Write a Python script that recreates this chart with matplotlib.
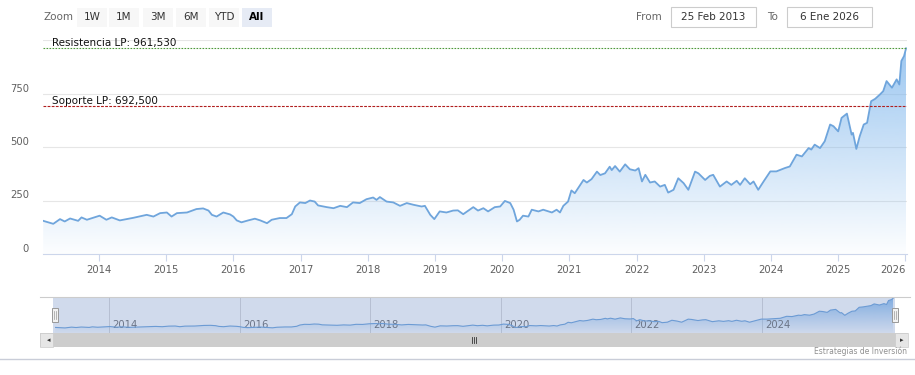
import numpy as np
import matplotlib.pyplot as plt
from matplotlib.patches import Rectangle
from matplotlib.colors import LinearSegmentedColormap
import matplotlib.transforms as mtransforms

# serie (año decimal, precio)
years = [2013.17, 2013.32, 2013.42, 2013.49, 2013.57, 2013.69, 2013.74, 2013.82, 2014.01, 2014.11,
         2014.19, 2014.31, 2014.51, 2014.71, 2014.81, 2014.91, 2015.01, 2015.08, 2015.16, 2015.31,
         2015.45, 2015.55, 2015.63, 2015.68, 2015.75, 2015.85, 2015.95, 2016.00, 2016.05, 2016.12,
         2016.22, 2016.32, 2016.40, 2016.50, 2016.57, 2016.69, 2016.79, 2016.87, 2016.92, 2016.99,
         2017.07, 2017.14, 2017.21, 2017.26, 2017.39, 2017.49, 2017.59, 2017.69, 2017.78, 2017.88,
         2017.98, 2018.08, 2018.13, 2018.18, 2018.28, 2018.38, 2018.48, 2018.58, 2018.68, 2018.80,
         2018.85, 2018.93, 2018.99, 2019.07, 2019.17, 2019.27, 2019.34, 2019.42, 2019.57, 2019.64,
         2019.72, 2019.79, 2019.89, 2019.97, 2020.04, 2020.12, 2020.17, 2020.22, 2020.26, 2020.31,
         2020.39, 2020.44, 2020.54, 2020.61, 2020.74, 2020.81, 2020.86, 2020.91, 2020.98, 2021.03,
         2021.08, 2021.21, 2021.26, 2021.33, 2021.41, 2021.46, 2021.53, 2021.60, 2021.63, 2021.68,
         2021.75, 2021.83, 2021.90, 2021.98, 2022.03, 2022.08, 2022.13, 2022.20, 2022.27, 2022.35,
         2022.42, 2022.47, 2022.55, 2022.62, 2022.70, 2022.77, 2022.87, 2022.92, 2023.02, 2023.09,
         2023.14, 2023.24, 2023.34, 2023.41, 2023.49, 2023.54, 2023.61, 2023.69, 2023.74, 2023.81,
         2023.89, 2023.99, 2024.08, 2024.21, 2024.28, 2024.38, 2024.46, 2024.56, 2024.60, 2024.65,
         2024.73, 2024.80, 2024.88, 2024.93, 2025.00, 2025.05, 2025.13, 2025.20, 2025.22, 2025.27,
         2025.32, 2025.38, 2025.43, 2025.49, 2025.55, 2025.62, 2025.67, 2025.72, 2025.80, 2025.87,
         2025.91, 2025.94, 2025.98, 2026.01]
values = [155, 141, 163, 152, 166, 155, 171, 160, 179, 160,
          171, 157, 169, 183, 175, 191, 194, 175, 191, 194,
          210, 213, 203, 183, 175, 194, 185, 175, 157, 148,
          157, 165, 157, 144, 160, 168, 168, 186, 222, 241,
          238, 250, 245, 227, 219, 214, 225, 219, 241, 238,
          256, 264, 253, 266, 245, 241, 225, 238, 230, 222,
          225, 183, 163, 199, 194, 203, 204, 186, 219, 203,
          214, 199, 219, 222, 248, 238, 207, 152, 160, 179,
          175, 207, 199, 207, 194, 207, 194, 225, 245, 297,
          284, 346, 334, 350, 385, 369, 377, 408, 392, 411,
          385, 419, 396, 390, 401, 339, 370, 334, 339, 315,
          323, 287, 300, 354, 331, 300, 385, 377, 346, 365,
          370, 315, 339, 323, 342, 323, 354, 326, 339, 300,
          339, 386, 386, 402, 409, 464, 456, 495, 488, 511,
          495, 527, 605, 597, 573, 636, 656, 558, 566, 491,
          550, 605, 613, 714, 725, 745, 761, 808, 777, 816,
          792, 902, 925, 961]

resistencia = 961.53
soporte = 692.5
y_ticks = [0, 250, 500, 750]
x_ticks = list(range(2014, 2027))
nav_ticks = [2014, 2016, 2018, 2020, 2022, 2024]
buttons = ['1W', '1M', '3M', '6M', 'YTD', 'All']
date_from = '25 Feb 2013'
date_to = '6 Ene 2026'

W, H = 915, 375
BLUE = (124 / 255, 181 / 255, 236 / 255)
LINE = '#6fa5dc'
GRID = '#e6e6e6'
AXIS = '#ccd6eb'
LBL = '#606060'
plt.rcParams['font.family'] = 'DejaVu Sans'


def fx(x):
    return x / W


def fy(y):
    return 1 - y / H


def box(x0, y0, x1, y1, **kw):
    fig.add_artist(Rectangle((fx(x0), fy(y1)), (x1 - x0) / W, (y1 - y0) / H,
                             transform=fig.transFigure, **kw))


def grad_area(ax, x, y, top_alpha, ymax):
    poly = ax.fill_between(x, y, 0, facecolor='none', edgecolor='none')
    cmap = LinearSegmentedColormap.from_list('g', [BLUE + (0.02,), BLUE + (top_alpha,)])
    grad = np.linspace(0, 1, 256).reshape(-1, 1)
    im = ax.imshow(grad, aspect='auto', cmap=cmap, origin='lower',
                   extent=[x[0], x[-1], 0, ymax], zorder=1, interpolation='bilinear')
    im.set_clip_path(poly.get_paths()[0], transform=ax.transData)


fig = plt.figure(figsize=(W / 100, H / 100), dpi=100)

# grafico principal
ax = fig.add_axes([fx(43), fy(254), (907 - 43) / W, (254 - 40) / H])
grad_area(ax, years, values, 0.78, 1000)
ax.plot(years, values, color=LINE, lw=1.3, zorder=3)
ax.set_xlim(2013.167, 2026.024)
ax.set_ylim(0, 1000)
for v in [250, 500, 750, 1000]:
    ax.axhline(v, color=GRID, lw=0.8, zorder=0)
for s in ['top', 'left', 'right']:
    ax.spines[s].set_visible(False)
ax.spines['bottom'].set_color(AXIS)
ax.set_xticks(x_ticks)
ax.set_xticklabels([str(t) for t in x_ticks])
ax.tick_params(axis='x', length=5, color=AXIS, labelcolor=LBL, labelsize=7.2, pad=3)
ax.get_xticklabels()[-1].set_horizontalalignment('right')
ax.set_yticks([])
ylab_tr = mtransforms.offset_copy(ax.get_yaxis_transform(), fig=fig, x=0, y=5, units='dots')
for v in y_ticks:
    ax.text((29 - 43) / 864, v, str(v), transform=ylab_tr, ha='right', va='center',
            fontsize=7.2, color=LBL)

ax.axhline(resistencia, color='#4f9a3c', lw=0.8, ls=(0, (1.5, 1.2)), zorder=4)
ax.axhline(soporte, color='#b01e1e', lw=0.8, ls=(0, (2.5, 1.2)), zorder=4)
ax.text((52 - 43) / 864, resistencia, 'Resistencia LP: 961,530', transform=ylab_tr,
        fontsize=7.5, color='#111111', va='center')
ax.text((52 - 43) / 864, soporte, 'Soporte LP: 692,500', transform=ylab_tr,
        fontsize=7.5, color='#111111', va='center')

# selector de rango
fig.text(fx(43), fy(17.5), 'Zoom', fontsize=7.5, color='#666666', va='center')
centers = [92, 124, 158, 191, 224, 257]
for b, c in zip(buttons, centers):
    sel = b == 'All'
    box(c - 15, 8, c + 15, 27, facecolor='#e6ebf5' if sel else '#f7f7f7', edgecolor='none')
    fig.text(fx(c), fy(17.5), b, fontsize=7.5, ha='center', va='center',
             color='#000000' if sel else '#333333', fontweight='bold' if sel else 'normal')

fig.text(fx(662), fy(17.5), 'From', fontsize=7.5, color='#666666', ha='right', va='center')
box(671, 7, 756, 27, facecolor='white', edgecolor='#cccccc', lw=0.8)
fig.text(fx(713.5), fy(17.5), date_from, fontsize=7.5, color='#333333', ha='center', va='center')
fig.text(fx(778), fy(17.5), 'To', fontsize=7.5, color='#666666', ha='right', va='center')
box(787, 7, 872, 27, facecolor='white', edgecolor='#cccccc', lw=0.8)
fig.text(fx(829.5), fy(17.5), date_to, fontsize=7.5, color='#333333', ha='center', va='center')

# navegador
nav = fig.add_axes([fx(55), fy(333), (894 - 55) / W, (333 - 297) / H])
grad_area(nav, years, values, 0.9, 1000)
nav.plot(years, values, color=LINE, lw=0.8, zorder=3)
nav.set_xlim(2013.167, 2026.024)
nav.set_ylim(0, 1000)
for t in nav_ticks:
    nav.axvline(t, color='#d8d8d8', lw=0.7, zorder=0)
    nav.text(t + 0.05, 230, str(t), fontsize=7.2, color='#6d6d6d', va='center', zorder=2)
nav.axis('off')
box(53, 297, 895, 333, facecolor=(102 / 255, 133 / 255, 194 / 255, 0.3), edgecolor='none')
fig.add_artist(plt.Line2D([fx(40), fx(910)], [fy(297), fy(297)], color='#cccccc', lw=0.8))

# asas
for hx in [55, 895]:
    box(hx - 3, 308, hx + 3, 322, facecolor='#f2f2f2', edgecolor='#999999', lw=0.7)
    for dx in [-1, 1]:
        fig.add_artist(plt.Line2D([fx(hx + dx), fx(hx + dx)], [fy(311), fy(319)],
                                  color='#999999', lw=0.5))

# barra de desplazamiento
box(40, 333, 908, 347, facecolor='#cdcdcd', edgecolor='none')
box(40, 333, 53, 347, facecolor='#e6e6e6', edgecolor='#cccccc', lw=0.5)
box(895, 333, 908, 347, facecolor='#e6e6e6', edgecolor='#cccccc', lw=0.5)
fig.text(fx(48.5), fy(340), '\u25c2', fontsize=5, color='#333333', ha='center', va='center')
fig.text(fx(901.5), fy(340), '\u25b8', fontsize=5, color='#333333', ha='center', va='center')
for dx in [-2, 0, 2]:
    fig.add_artist(plt.Line2D([fx(474 + dx), fx(474 + dx)], [fy(337), fy(343)],
                              color='#333333', lw=0.6))

fig.add_artist(plt.Line2D([0, 1], [fy(359), fy(359)], color='#c9cdd8', lw=1))
fig.text(fx(907), fy(351), 'Estrategias de Inversión', fontsize=5.5, color='#909090',
         ha='right', va='center')

fig.savefig('out.png', dpi=100)
